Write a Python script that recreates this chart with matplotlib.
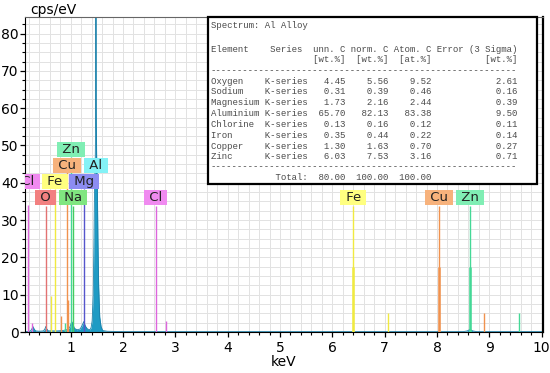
import matplotlib
matplotlib.use("Agg")
import matplotlib.pyplot as plt
from matplotlib.patches import Rectangle

# ---------------- data ----------------
# EDS spectrum (keV, cps/eV)
spec_kev = [0.13, 0.22, 0.25, 0.27, 0.285, 0.30, 0.33, 0.40, 0.48, 0.51, 0.525, 0.54,
            0.57, 0.65, 0.75, 0.85, 0.95, 0.99, 1.02, 1.04, 1.07, 1.12, 1.18, 1.22,
            1.25, 1.28, 1.32, 1.37, 1.39, 1.41, 1.43, 1.445, 1.455, 1.47, 1.479, 1.483,
            1.487, 1.496, 1.51, 1.52, 1.535, 1.555, 1.58, 1.61, 1.70, 2.0, 3.0, 5.0,
            8.50, 8.58, 8.63, 8.68, 8.76, 10.05]
spec_cps = [0.1, 0.2, 0.6, 1.2, 1.4, 0.8, 0.3, 0.2, 0.3, 0.9, 1.5, 0.9,
            0.3, 0.3, 0.3, 0.4, 0.7, 1.5, 2.8, 2.2, 1.0, 0.6, 0.8, 1.8,
            2.8, 1.6, 0.8, 0.6, 1.2, 3.0, 10.0, 25.0, 38.0, 47.0, 60.0, 95.0,
            60.0, 47.0, 38.0, 25.0, 12.0, 4.0, 1.5, 0.4, 0.2, 0.1, 0.1, 0.1,
            0.1, 0.3, 0.7, 0.3, 0.1, 0.1]

# element line markers (keV, height, element)
mk_kev = [0.183, 0.265, 0.525, 0.615, 0.705, 0.811, 0.930, 0.949, 0.884, 1.012,
          1.041, 1.254, 2.622, 2.815, 6.400, 7.058, 8.040, 8.905, 8.630, 9.572]
mk_top = [34.0, 2.4, 33.8, 9.6, 38.4, 4.4, 43.4, 8.6, 2.5, 47.0,
          33.8, 38.4, 33.8, 3.0, 33.8, 5.0, 33.8, 5.0, 33.8, 5.0]
mk_elem = ["Cl", "Cl", "O", "Fe", "Fe", "Cu", "Cu", "Cu", "Zn", "Zn",
           "Na", "Mg", "Cl", "Cl", "Fe", "Fe", "Cu", "Cu", "Zn", "Zn"]
# K-alpha line heights for the heavy elements
ka_kev = [6.400, 8.040, 8.630]
ka_top = [17.4, 17.4, 17.4]
ka_elem = ["Fe", "Cu", "Zn"]

# peak labels
lab_text = ["Cl", "O", "Fe", "Cu", "Zn", "Na", "Mg", "Al", "Cl", "Fe", "Cu", "Zn"]
lab_kev = [0.183, 0.525, 0.705, 0.930, 1.012, 1.041, 1.254, 1.486, 2.622, 6.400, 8.040, 8.630]
lab_level = [40.3, 36.0, 40.3, 44.6, 48.9, 36.0, 40.3, 44.6, 36.0, 36.0, 36.0, 36.0]

# quantification table
tab_element = ["Oxygen", "Sodium", "Magnesium", "Aluminium", "Chlorine", "Iron", "Copper", "Zinc"]
tab_series = ["K-series"] * 8
tab_unn = [4.45, 0.31, 1.73, 65.70, 0.13, 0.35, 1.30, 6.03]
tab_norm = [5.56, 0.39, 2.16, 82.13, 0.16, 0.44, 1.63, 7.53]
tab_atom = [9.52, 0.46, 2.44, 83.38, 0.12, 0.22, 0.70, 3.16]
tab_err = [2.61, 0.16, 0.39, 9.50, 0.11, 0.14, 0.27, 0.71]
tab_total = [80.00, 100.00, 100.00]

x_ticks = [1, 2, 3, 4, 5, 6, 7, 8, 9, 10]
y_ticks = [0, 10, 20, 30, 40, 50, 60, 70, 80]

# ---------------- styles ----------------
box_color = {"Cl": "#f08af0", "O": "#f28080", "Fe": "#ffff80", "Cu": "#f7b27c",
             "Zn": "#80eeb4", "Na": "#80e680", "Mg": "#8c8cf2", "Al": "#84f2f6"}
line_color = {"Cl": "#dd66dd", "O": "#e27272", "Fe": "#f0ea40", "Cu": "#f0924e",
              "Zn": "#44d896", "Na": "#44cc5e", "Mg": "#5656cc", "Al": "#1f9bc4"}

W, H = 550, 373
fig = plt.figure(figsize=(W / 100, H / 100), dpi=100)
ax_l, ax_r, ax_t, ax_b = 25, 543, 17, 332
ax = fig.add_axes([ax_l / W, 1 - ax_b / H, (ax_r - ax_l) / W, (ax_b - ax_t) / H])

ax.set_xlim(0.127, 10.025)
ax.set_ylim(0, 84.45)

ax.set_xticks(x_ticks)
ax.set_yticks(y_ticks)
ax.set_xticks([i * 0.2 for i in range(1, 51)], minor=True)
ax.set_yticks([i * 2.5 for i in range(1, 34)], minor=True)
ax.grid(True, which="both", color="#e2e2e2", lw=0.7, zorder=0)
ax.set_axisbelow(True)
ax.tick_params(which="major", direction="out", length=3.6, width=0.9, labelsize=10, pad=1)
ax.tick_params(which="minor", direction="out", length=2.2, width=0.8)
ax.tick_params(axis="x", which="major", pad=3)
ax.spines["top"].set_color("#666666")
ax.spines["top"].set_linewidth(0.8)
ax.spines["right"].set_linewidth(1.6)

# spectrum
ax.fill_between(spec_kev, spec_cps, 0, color="#1f9bc4", lw=0, zorder=2)
ax.plot(spec_kev, spec_cps, color="#1a80aa", lw=0.6, zorder=2)

# marker lines
for k, t, e in zip(mk_kev, mk_top, mk_elem):
    ax.vlines(k, 0, t, color=line_color[e], lw=1.0, zorder=3)
for k, t, e in zip(ka_kev, ka_top, ka_elem):
    ax.vlines(k, 0, t, color=line_color[e], lw=1.8, zorder=3)

# labels
for txt, k, lv in zip(lab_text, lab_kev, lab_level):
    ax.text(k, lv, " " + txt + " ", ha="center", va="center", fontsize=9.5, color="#222222",
            zorder=5, clip_on=True,
            bbox=dict(boxstyle="square,pad=0.08", fc=box_color[txt], ec="none"))

ax.set_xlabel("keV", fontsize=10, labelpad=0)
fig.text(30 / W, 1 - 10 / H, "cps/eV", ha="left", va="center", fontsize=10)

# table
bx0, bx1, by0, by1 = 208, 537, 17, 184
rect = Rectangle((bx0 / W, 1 - by1 / H), (bx1 - bx0) / W, (by1 - by0) / H,
                 transform=fig.transFigure, fc="white", ec="black", lw=1.6, zorder=10)
fig.patches.append(rect)

lines = []
lines.append((26, "Spectrum: Al Alloy"))
lines.append((49, f"{'Element':<11}{'Series':<8}{'unn. C':<7}{'norm. C':<8}{'Atom. C':<8}Error (3 Sigma)"))
lines.append((60, f"{'':19}{'[wt.%]':<6}{'[wt.%]':>8}{'[at.%]':>8}{'[wt.%]':>16}"))
lines.append((71, "-" * 57))
for i in range(len(tab_element)):
    y = 81 + i * 10.85
    lines.append((y, f"{tab_element[i]:<10}{tab_series[i]:<8}{tab_unn[i]:>7.2f}{tab_norm[i]:>8.2f}"
                     f"{tab_atom[i]:>8.2f}{tab_err[i]:>16.2f}"))
lines.append((167, "-" * 57))
lines.append((177, f"{'':12}{'Total:':<6}{tab_total[0]:>7.2f}{tab_total[1]:>8.2f}{tab_total[2]:>8.2f}"))

for y, s in lines:
    fig.text(211 / W, 1 - y / H, s, ha="left", va="center", fontsize=6.5,
             family="Liberation Mono", color="#4a4a4a", zorder=11)

fig.savefig("out.png", dpi=100)
